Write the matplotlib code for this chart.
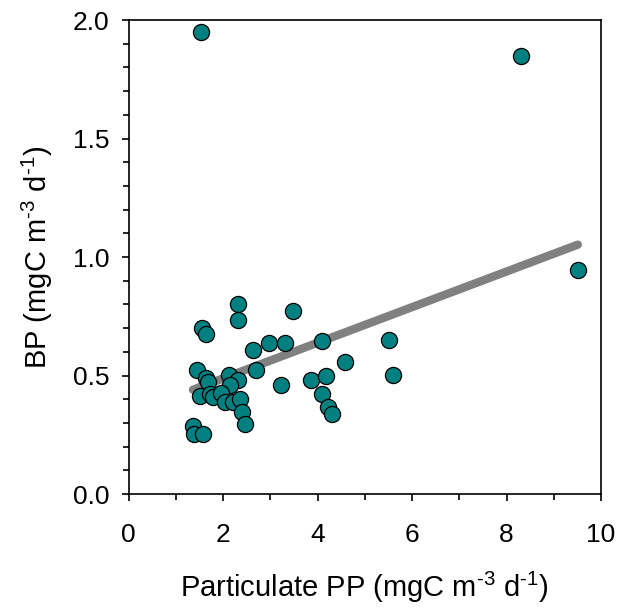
import numpy as np
import matplotlib.pyplot as plt
from matplotlib.ticker import MultipleLocator

plt.rcParams['font.family'] = ['Liberation Sans', 'DejaVu Sans']
plt.rcParams['mathtext.fontset'] = 'custom'
plt.rcParams['mathtext.rm'] = 'Liberation Sans'
plt.rcParams['mathtext.default'] = 'regular'

# particulate primary production vs bacterial production
pp = [2.32, 2.32, 3.47, 1.55, 1.63, 2.63, 2.97, 3.31, 4.10, 4.58,
      1.45, 1.64, 1.67, 2.70, 2.13, 2.32, 2.15, 3.23, 3.85, 4.18,
      1.51, 1.73, 1.79, 1.96, 2.03, 2.20, 2.35, 2.39, 2.46, 4.10,
      4.23, 4.30, 1.36, 1.39, 1.58, 1.53, 8.31, 9.51, 5.52, 5.60]
bp = [0.803, 0.734, 0.773, 0.700, 0.675, 0.608, 0.637, 0.638, 0.644, 0.559,
      0.524, 0.489, 0.472, 0.525, 0.503, 0.482, 0.458, 0.460, 0.479, 0.497,
      0.415, 0.422, 0.408, 0.425, 0.387, 0.390, 0.400, 0.345, 0.294, 0.421,
      0.366, 0.337, 0.285, 0.252, 0.252, 1.950, 1.849, 0.945, 0.649, 0.503]

# regression line
slope = 0.0751
intercept = 0.338

fig = plt.figure(figsize=(6.39, 6.14), dpi=100)
ax = fig.add_axes([0.2014, 0.1954, 0.7391, 0.772])

xfit = np.array([min(pp), max(pp)])
ax.plot(xfit, intercept + slope * xfit, color='#808080', lw=6,
        solid_capstyle='round', zorder=2)
ax.scatter(pp, bp, s=135, color='#008080', edgecolor='black',
           linewidth=0.9, zorder=3)

ax.set_xlim(0, 10)
ax.set_ylim(0, 2.0)
ax.xaxis.set_major_locator(MultipleLocator(2))
ax.xaxis.set_minor_locator(MultipleLocator(1))
ax.yaxis.set_major_locator(MultipleLocator(0.5))
ax.yaxis.set_minor_locator(MultipleLocator(0.1))
ax.yaxis.set_major_formatter(plt.FormatStrFormatter('%.1f'))

for s in ax.spines.values():
    s.set_linewidth(1.2)
ax.tick_params(which='both', direction='out', width=1.2, labelsize=19,
               top=False, right=False)
ax.tick_params(which='major', length=5)
ax.tick_params(which='minor', length=4)
ax.tick_params(axis='x', which='major', pad=16)
ax.tick_params(axis='y', which='major', pad=9)

unit = ' (mgC m$^{\\text{-3}}$ d$^{\\text{-1}}$)'
ax.set_xlabel('Particulate PP' + unit, fontsize=21, labelpad=16)
ax.set_ylabel('BP' + unit, fontsize=21, labelpad=13)

fig.savefig('out.png', dpi=100)
